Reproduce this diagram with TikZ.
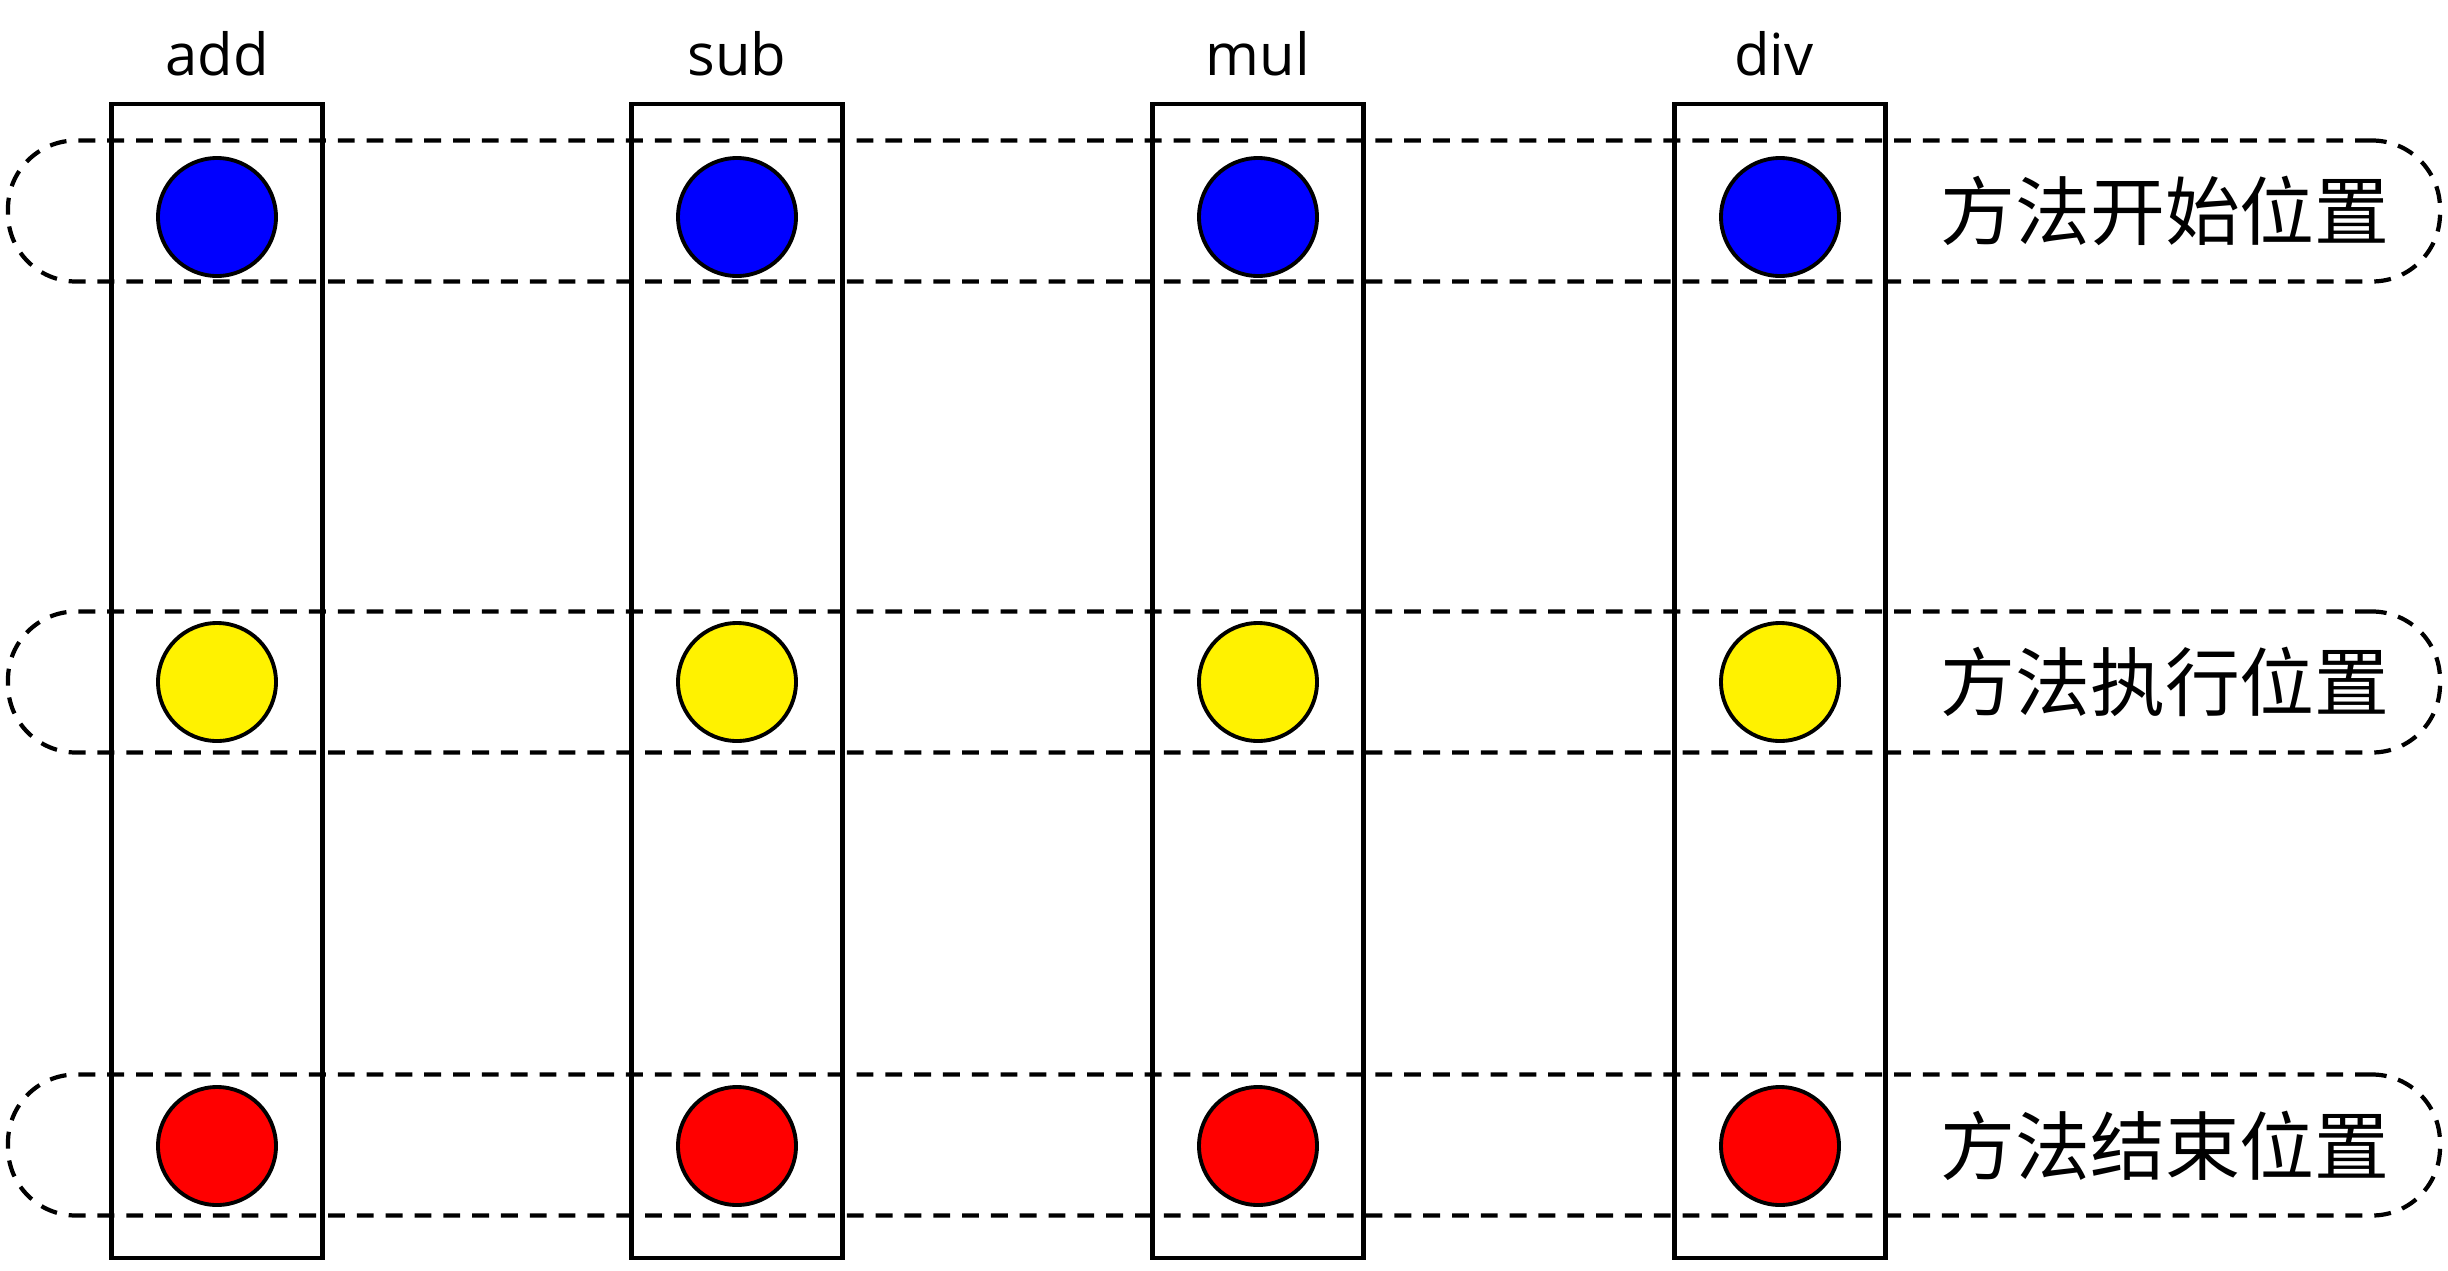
\documentclass[tikz,border=0pt]{standalone}
\usepackage{fontspec}
\setmainfont{Open Sans}
\newfontfamily\cjk{Noto Sans CJK SC}
\usetikzlibrary{positioning}

\tikzset{
  column/.style={draw, line width=1.2pt, minimum width=2.11cm, minimum height=11.54cm, inner sep=0pt},
  band/.style={draw, dash pattern=on 4.8pt off 3.4pt, line width=1.2pt, rounded corners=0.68cm, minimum width=24.32cm, minimum height=1.41cm, inner sep=0pt},
  dot/.style={circle, draw, line width=1.1pt, minimum size=1.18cm, inner sep=0pt},
  header/.style={font=\fontsize{16.5}{19}\selectfont, anchor=base},
  rowlabel/.style={font=\cjk\fontsize{21.3}{24}\selectfont},
}

\begin{document}
\begin{tikzpicture}[y=-1cm]
			\useasboundingbox (0,0) rectangle (24.48,12.70);
			
			%%%%% bands %%%%%
			\node[band] (start) at (12.24, 2.11) {};
			\node[band] (exec) at (12.24, 6.82) {};
			\node[band] (end) at (12.24, 11.45) {};
			
			%%%%% columns %%%%%
			\node[column] (add) at (2.17, 6.81) {};
			\node[column] (sub) at (7.37, 6.81) {};
			\node[column] (mul) at (12.58, 6.81) {};
			\node[column] (div) at (17.80, 6.81) {};
			
			\node[header] (addlabel) at (2.17, 0.75) {add};
			\node[header] (sublabel) at (7.37, 0.75) {sub};
			\node[header] (mullabel) at (12.58, 0.75) {mul};
			\node[header] (divlabel) at (17.74, 0.75) {div};
			
			%%%%% dots %%%%%
			\node[dot, fill=blue] (addstart) at (2.17, 2.17) {};
			\node[dot, fill=blue] (substart) at (7.37, 2.17) {};
			\node[dot, fill=blue] (mulstart) at (12.58, 2.17) {};
			\node[dot, fill=blue] (divstart) at (17.80, 2.17) {};
			
			\node[dot, fill=yellow] (addexec) at (2.17, 6.82) {};
			\node[dot, fill=yellow] (subexec) at (7.37, 6.82) {};
			\node[dot, fill=yellow] (mulexec) at (12.58, 6.82) {};
			\node[dot, fill=yellow] (divexec) at (17.80, 6.82) {};
			
			\node[dot, fill=red] (addend) at (2.17, 11.46) {};
			\node[dot, fill=red] (subend) at (7.37, 11.46) {};
			\node[dot, fill=red] (mulend) at (12.58, 11.46) {};
			\node[dot, fill=red] (divend) at (17.80, 11.46) {};
			
			%%%%% labels %%%%%
			\node[rowlabel] (startlabel) at (21.65, 2.11) {方法开始位置};
			\node[rowlabel] (execlabel) at (21.65, 6.82) {方法执行位置};
			\node[rowlabel] (endlabel) at (21.65, 11.46) {方法结束位置};
\end{tikzpicture}
\end{document}
